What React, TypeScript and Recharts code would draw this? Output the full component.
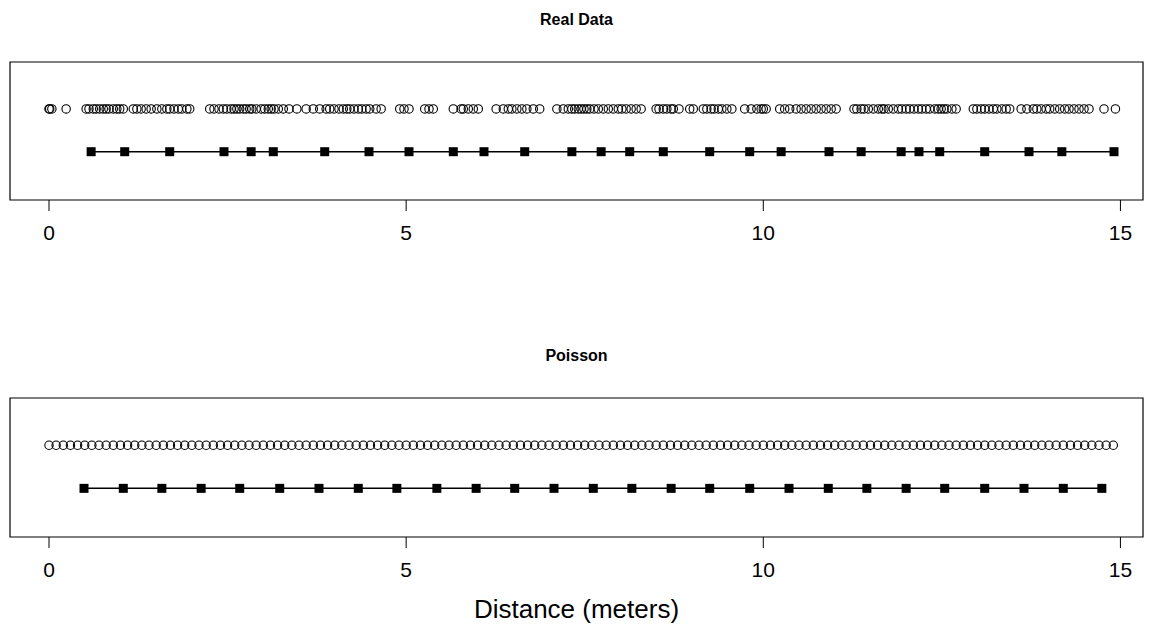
import { ScatterChart, Scatter, XAxis, YAxis, ReferenceArea } from "recharts";

document.body.style.margin = "0";

// distances (m) of observed points, top row of "Real Data"
const realCircles = [
  0.0, 0.01, 0.04, 0.24, 0.52, 0.56, 0.62, 0.66, 0.71, 0.76, 0.8, 0.84, 0.9, 0.95, 0.99, 1.04,
  1.18, 1.23, 1.29, 1.36, 1.43, 1.51, 1.58, 1.65, 1.69, 1.75, 1.81, 1.86, 1.93, 1.97,
  2.25, 2.31, 2.38, 2.44, 2.49, 2.55, 2.59, 2.63, 2.67, 2.72, 2.76, 2.81, 2.84, 2.9, 2.97,
  3.02, 3.07, 3.11, 3.15, 3.21, 3.28, 3.36, 3.47, 3.6, 3.7, 3.79, 3.88, 3.93, 3.99,
  4.06, 4.12, 4.17, 4.21, 4.27, 4.33, 4.38, 4.44, 4.49, 4.58, 4.65, 4.91, 4.97, 5.04,
  5.26, 5.32, 5.38, 5.66, 5.77, 5.8, 5.87, 5.94, 6.01, 6.26, 6.36, 6.43, 6.48, 6.55,
  6.62, 6.69, 6.78, 6.87, 7.11, 7.2, 7.27, 7.32, 7.36, 7.41, 7.45, 7.49, 7.53, 7.57,
  7.63, 7.69, 7.76, 7.83, 7.9, 7.97, 8.02, 8.08, 8.15, 8.22, 8.29, 8.5, 8.54, 8.6,
  8.65, 8.71, 8.74, 8.82, 8.97, 9.02, 9.16, 9.21, 9.27, 9.31, 9.37, 9.42, 9.49, 9.56,
  9.74, 9.83, 9.91, 9.97, 10.0, 10.04, 10.23, 10.3, 10.37, 10.46, 10.53, 10.6, 10.67,
  10.74, 10.81, 10.88, 10.95, 11.02, 11.27, 11.31, 11.37, 11.41, 11.47, 11.54, 11.61,
  11.66, 11.69, 11.75, 11.82, 11.89, 11.94, 12.0, 12.05, 12.11, 12.17, 12.22, 12.28,
  12.33, 12.4, 12.45, 12.49, 12.53, 12.57, 12.64, 12.7, 12.94, 12.99, 13.05, 13.1,
  13.16, 13.22, 13.27, 13.34, 13.4, 13.45, 13.61, 13.69, 13.78, 13.83, 13.89, 13.96,
  14.01, 14.08, 14.15, 14.22, 14.28, 14.35, 14.42, 14.49, 14.56, 14.77, 14.93,
];

const realSquares = [
  0.59, 1.06, 1.69, 2.45, 2.83, 3.14, 3.86, 4.48, 5.04, 5.66, 6.09, 6.66, 7.32, 7.73,
  8.13, 8.6, 9.25, 9.81, 10.25, 10.92, 11.37, 11.93, 12.18, 12.47, 13.1, 13.72, 14.18, 14.91,
];

const poissonCircles = [
  0.0, 0.1, 0.2, 0.3, 0.4, 0.5, 0.6, 0.7, 0.8, 0.9, 1.0, 1.1, 1.2, 1.3, 1.4, 1.5, 1.6, 1.7, 1.8, 1.9,
  2.0, 2.1, 2.2, 2.3, 2.4, 2.5, 2.6, 2.7, 2.8, 2.9, 3.0, 3.1, 3.2, 3.3, 3.4, 3.5, 3.6, 3.7, 3.8, 3.9,
  4.0, 4.1, 4.2, 4.3, 4.4, 4.5, 4.6, 4.7, 4.8, 4.9, 5.0, 5.1, 5.2, 5.3, 5.4, 5.5, 5.6, 5.7, 5.8, 5.9,
  6.0, 6.1, 6.2, 6.3, 6.4, 6.5, 6.6, 6.7, 6.8, 6.9, 7.0, 7.1, 7.2, 7.3, 7.4, 7.5, 7.6, 7.7, 7.8, 7.9,
  8.0, 8.1, 8.2, 8.3, 8.4, 8.5, 8.6, 8.7, 8.8, 8.9, 9.0, 9.1, 9.2, 9.3, 9.4, 9.5, 9.6, 9.7, 9.8, 9.9,
  10.0, 10.1, 10.2, 10.3, 10.4, 10.5, 10.6, 10.7, 10.8, 10.9, 11.0, 11.1, 11.2, 11.3, 11.4, 11.5,
  11.6, 11.7, 11.8, 11.9, 12.0, 12.1, 12.2, 12.3, 12.4, 12.5, 12.6, 12.7, 12.8, 12.9, 13.0, 13.1,
  13.2, 13.3, 13.4, 13.5, 13.6, 13.7, 13.8, 13.9, 14.0, 14.1, 14.2, 14.3, 14.4, 14.5, 14.6, 14.7,
  14.8, 14.9,
];

const poissonSquares = [
  0.49, 1.04, 1.58, 2.13, 2.67, 3.23, 3.78, 4.33, 4.87, 5.43, 5.98, 6.52, 7.07, 7.62,
  8.16, 8.71, 9.25, 9.81, 10.36, 10.91, 11.45, 12.0, 12.54, 13.1, 13.65, 14.2, 14.74,
];

const xTicks = [0, 5, 10, 15];

const X_MIN = -0.546;
const X_MAX = 15.316;
const CIRCLE_ROW = 0.66;
const SQUARE_ROW = 0.35;
const FONT = '"Liberation Sans", Arial, sans-serif';

const OpenCircle = (props: any) => (
  <circle cx={props.cx} cy={props.cy} r={4.2} fill="none" stroke="#000" strokeWidth={1.1} />
);

const FilledSquare = (props: any) => (
  <rect x={props.cx - 4.5} y={props.cy - 4.5} width={9} height={9} fill="#000" />
);

function Strip({ circles, squares, height }: { circles: number[]; squares: number[]; height: number }) {
  const circleData = circles.map((x) => ({ x, y: CIRCLE_ROW }));
  const squareData = squares.map((x) => ({ x, y: SQUARE_ROW }));

  return (
    <ScatterChart width={1153} height={62 + height + 60} margin={{ top: 62, right: 10, left: 10, bottom: 10 }}>
      <XAxis
        type="number"
        dataKey="x"
        domain={[X_MIN, X_MAX]}
        allowDataOverflow
        ticks={xTicks}
        height={50}
        axisLine={false}
        tickSize={11}
        tickMargin={14}
        tickLine={{ stroke: "#000" }}
        tick={{ fill: "#000", fontSize: 21, fontFamily: FONT }}
      />
      <YAxis type="number" dataKey="y" domain={[0, 1]} hide />
      <ReferenceArea x1={X_MIN} x2={X_MAX} y1={0} y2={1} fill="none" stroke="#000" strokeWidth={1.2} />
      <Scatter data={circleData} shape={OpenCircle} isAnimationActive={false} />
      <Scatter
        data={squareData}
        shape={FilledSquare}
        line={{ stroke: "#000", strokeWidth: 1.5 }}
        isAnimationActive={false}
      />
    </ScatterChart>
  );
}

const titleStyle: React.CSSProperties = {
  position: "absolute",
  left: 10,
  width: 1133,
  textAlign: "center",
  fontFamily: FONT,
  fontWeight: "bold",
  fontSize: 16,
  lineHeight: "20px",
};

export default function App() {
  return (
    <div style={{ position: "relative", width: 1153, height: 628, background: "#fff" }}>
      <div style={{ ...titleStyle, top: 10 }}>Real Data</div>
      <div style={{ position: "absolute", top: 0, left: 0 }}>
        <Strip circles={realCircles} squares={realSquares} height={138} />
      </div>
      <div style={{ ...titleStyle, top: 346 }}>Poisson</div>
      <div style={{ position: "absolute", top: 336, left: 0 }}>
        <Strip circles={poissonCircles} squares={poissonSquares} height={139} />
      </div>
      <div
        style={{
          position: "absolute",
          top: 593,
          left: 10,
          width: 1133,
          textAlign: "center",
          fontFamily: FONT,
          fontSize: 26,
          lineHeight: "32px",
        }}
      >
        Distance (meters)
      </div>
    </div>
  );
}
